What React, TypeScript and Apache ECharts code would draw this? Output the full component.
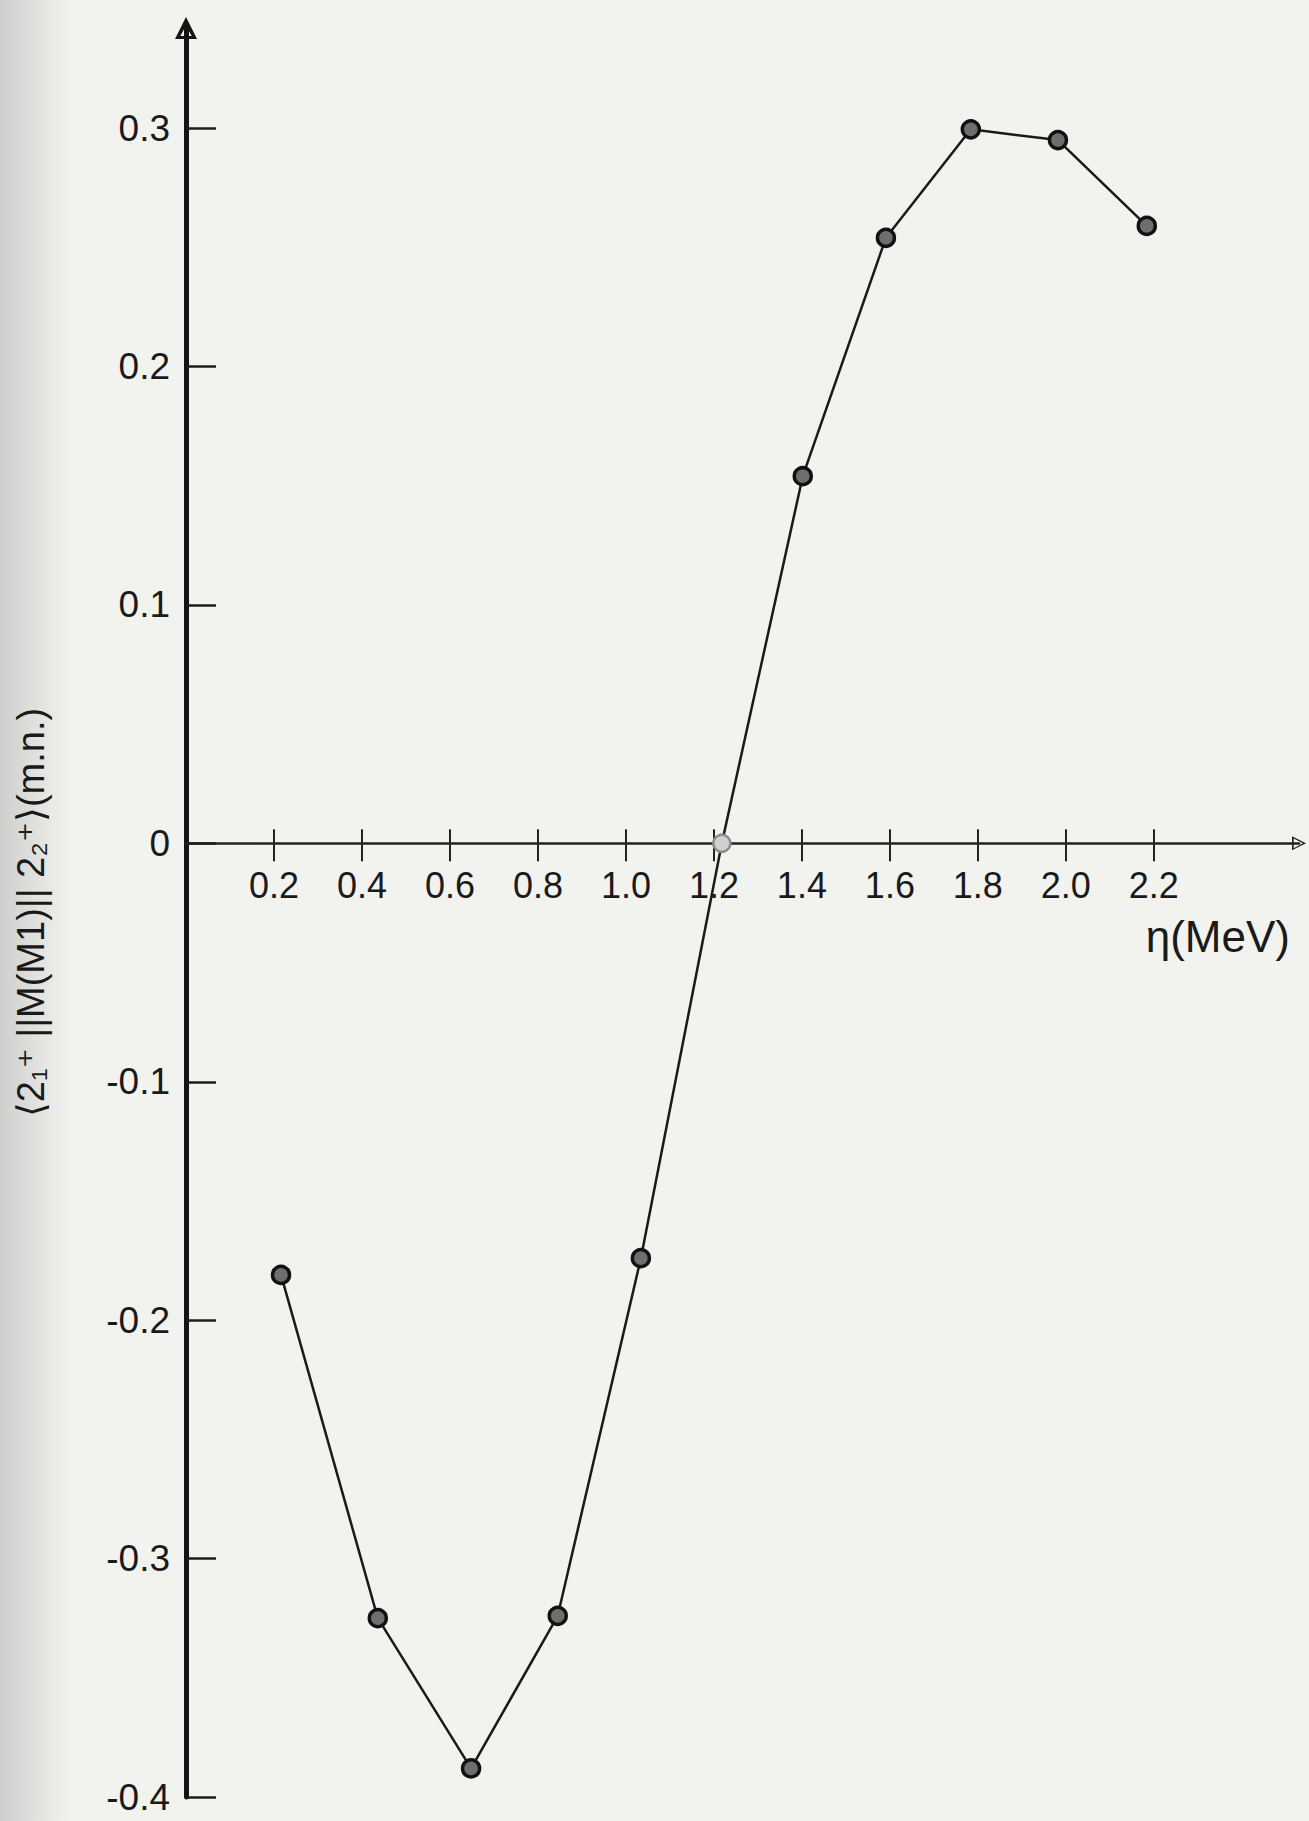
import React, { useEffect, useRef } from 'react';
import * as echarts from 'echarts';

// Data (η in MeV, reduced matrix element in m.n.)
const etaValues = [0.216, 0.436, 0.648, 0.845, 1.034, 1.218, 1.402, 1.591, 1.784, 1.982, 2.184];
const m1Values = [-0.181, -0.325, -0.388, -0.324, -0.174, 0.0, 0.154, 0.254, 0.2995, 0.295, 0.259];
const xTickValues = [0.2, 0.4, 0.6, 0.8, 1.0, 1.2, 1.4, 1.6, 1.8, 2.0, 2.2];
const yTickValues = [-0.4, -0.3, -0.2, -0.1, 0, 0.1, 0.2, 0.3];
const yAxisTitle = '⟨2₁⁺ ||M(M1)|| 2₂⁺⟩(m.n.)';
const xAxisTitle = 'η(MeV)';
const fadedPointIndex = 5;

const X_MIN = 0;
const X_MAX = 2.53;
const Y_MIN = -0.4;
const Y_MAX = 0.342;

const W = 1309;
const H = 1821;
const G_LEFT = 186;
const G_RIGHT = 10;
const G_TOP = 28;
const G_BOTTOM = 24;

const FONT = "'Liberation Sans', 'DejaVu Sans', sans-serif";
const INK = '#1a1a1a';
const ARROW_UP = 'path://M50,0 L100,100 L0,100 Z M50,40 L24,86 L76,86 Z';
const ARROW_OPEN = 'path://M50,0 L100,100 L0,100 Z M50,22 L15,88 L85,88 Z';

export default function App() {
  const ref = useRef<HTMLDivElement>(null);

  useEffect(() => {
    if (!ref.current) return;
    const chart = echarts.init(ref.current, undefined, { renderer: 'svg' });

    const plotH = H - G_TOP - G_BOTTOM;
    const zeroY = G_TOP + (Y_MAX / (Y_MAX - Y_MIN)) * plotH;
    const axisGridBottom = H - zeroY;

    const seriesData = etaValues.map((x, i) =>
      i === fadedPointIndex
        ? { value: [x, m1Values[i]], itemStyle: { color: '#d0d0d0', borderColor: '#8a8a8a', borderWidth: 2.5 } }
        : { value: [x, m1Values[i]] }
    );

    const yFmt = (v: number) => (Math.abs(v) < 1e-9 ? '0' : v.toFixed(1));
    const hiddenY = (gridIndex: number) => ({ type: 'value', gridIndex, min: 0, max: 1, show: false });

    chart.setOption({
      animation: false,
      backgroundColor: '#f2f2ef',
      grid: [
        { left: G_LEFT, right: G_RIGHT, top: G_TOP, bottom: G_BOTTOM, containLabel: false },
        { left: G_LEFT, right: G_RIGHT, top: G_TOP, bottom: axisGridBottom, containLabel: false },
        { left: G_LEFT, right: G_RIGHT, top: G_TOP, bottom: axisGridBottom, containLabel: false },
      ],
      xAxis: [
        { type: 'value', gridIndex: 0, min: X_MIN, max: X_MAX, show: false },
        {
          type: 'value',
          gridIndex: 1,
          min: X_MIN,
          max: X_MAX,
          position: 'bottom',
          axisLine: {
            show: true,
            onZero: false,
            symbol: ['none', ARROW_OPEN],
            symbolSize: [16, 14],
            lineStyle: { color: '#222', width: 2.5 },
          },
          axisTick: {
            show: true,
            inside: false,
            length: 18,
            customValues: xTickValues,
            lineStyle: { color: '#222', width: 2 },
          },
          axisLabel: {
            show: true,
            customValues: xTickValues,
            formatter: (v: number) => v.toFixed(1),
            fontSize: 36,
            fontFamily: FONT,
            color: INK,
            margin: 24,
          },
          splitLine: { show: false },
        },
        {
          type: 'value',
          gridIndex: 2,
          min: X_MIN,
          max: X_MAX,
          position: 'bottom',
          axisLine: { show: false, onZero: false },
          axisTick: {
            show: true,
            inside: true,
            length: 14,
            customValues: xTickValues,
            lineStyle: { color: '#222', width: 2 },
          },
          axisLabel: { show: false },
          splitLine: { show: false },
        },
      ],
      yAxis: [
        {
          type: 'value',
          gridIndex: 0,
          min: Y_MIN,
          max: Y_MAX,
          axisLine: {
            show: true,
            onZero: false,
            symbol: ['none', ARROW_UP],
            symbolSize: [25, 22],
            lineStyle: { color: '#141414', width: 5 },
          },
          axisTick: {
            show: true,
            inside: true,
            length: 30,
            customValues: yTickValues,
            lineStyle: { color: '#1c1c1c', width: 2.5 },
          },
          axisLabel: {
            show: true,
            customValues: yTickValues,
            formatter: yFmt,
            fontSize: 37,
            lineHeight: 30,
            fontFamily: FONT,
            color: INK,
            margin: 16,
          },
          splitLine: { show: false },
          name: yAxisTitle,
          nameLocation: 'middle',
          nameRotate: 90,
          nameGap: 136,
          nameTextStyle: { fontSize: 38, fontFamily: FONT, color: INK },
        },
        hiddenY(1),
        hiddenY(2),
      ],
      graphic: [
        {
          type: 'rect',
          left: 0,
          top: 0,
          z: -10,
          silent: true,
          shape: { width: 70, height: H },
          style: {
            fill: new echarts.graphic.LinearGradient(0, 0, 1, 0, [
              { offset: 0, color: 'rgba(140,140,140,0.35)' },
              { offset: 1, color: 'rgba(140,140,140,0)' },
            ]),
          },
        },
        {
          type: 'text',
          x: 1290,
          y: 936,
          silent: true,
          style: {
            text: xAxisTitle,
            fontSize: 44,
            fontFamily: FONT,
            fill: INK,
            align: 'right',
            verticalAlign: 'middle',
          },
        },
      ],
      series: [
        {
          type: 'line',
          xAxisIndex: 0,
          yAxisIndex: 0,
          data: seriesData,
          symbol: 'circle',
          symbolSize: 17,
          showSymbol: true,
          lineStyle: { color: INK, width: 2.5 },
          itemStyle: { color: '#6e6e6e', borderColor: '#111', borderWidth: 3.5 },
          z: 3,
        },
      ],
    });

    return () => chart.dispose();
  }, []);

  return (
    <div
      ref={ref}
      style={{ position: 'absolute', left: 0, top: 0, width: W, height: H }}
    />
  );
}
